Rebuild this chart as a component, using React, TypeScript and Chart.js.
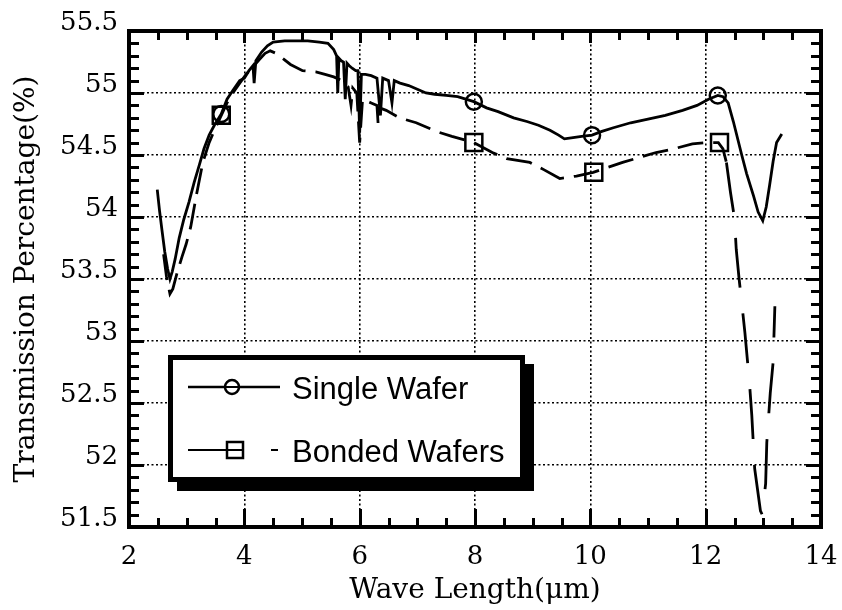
import React, { useEffect, useRef } from "react";
import { Chart, registerables } from "chart.js";

Chart.register(...registerables);

const CANVAS_W = 842;
const CANVAS_H = 610;

const xTickValues = [2, 4, 6, 8, 10, 12, 14];
const yTickValues = [51.5, 52, 52.5, 53, 53.5, 54, 54.5, 55, 55.5];
const xTitle = "Wave Length(μm)";
const yTitle = "Transmission Percentage(%)";
const legendLabels = ["Single Wafer", "Bonded Wafers"];

const singleX = [2.49, 2.53, 2.57, 2.62, 2.67, 2.71, 2.75, 2.8, 2.87, 2.95, 3.04, 3.13, 3.22, 3.3, 3.39, 3.48, 3.6, 3.7, 3.8, 3.92, 4.0, 4.08, 4.15, 4.17, 4.2, 4.3, 4.4, 4.5, 4.7, 4.9, 5.1, 5.3, 5.45, 5.55, 5.6, 5.62, 5.64, 5.68, 5.72, 5.75, 5.78, 5.82, 5.87, 5.93, 5.97, 6.0, 6.03, 6.1, 6.2, 6.3, 6.36, 6.4, 6.45, 6.5, 6.56, 6.6, 6.7, 6.85, 7.0, 7.15, 7.3, 7.5, 7.7, 7.98, 8.2, 8.4, 8.67, 8.9, 9.1, 9.3, 9.45, 9.55, 9.7, 9.85, 10.03, 10.2, 10.4, 10.7, 11.0, 11.3, 11.6, 11.85, 12.05, 12.21, 12.3, 12.39, 12.48, 12.62, 12.71, 12.83, 12.91, 12.99, 13.05, 13.11, 13.17, 13.23, 13.32];
const singleY = [54.22, 54.05, 53.9, 53.72, 53.58, 53.5, 53.56, 53.66, 53.83, 53.98, 54.12, 54.28, 54.42, 54.55, 54.66, 54.74, 54.83, 54.95, 55.02, 55.1, 55.12, 55.18, 55.22, 55.08, 55.26, 55.33, 55.38, 55.41, 55.42, 55.42, 55.42, 55.41, 55.4, 55.35, 55.3, 55.0, 55.28, 55.26, 55.25, 54.95, 55.24, 55.22, 55.2, 55.18, 55.18, 54.68, 55.15, 55.15, 55.14, 55.12, 54.82, 55.12, 55.11, 55.1, 54.92, 55.1, 55.08, 55.06, 55.03, 55.0, 54.99, 54.98, 54.97, 54.93, 54.88, 54.85, 54.8, 54.77, 54.74, 54.7, 54.66, 54.63, 54.64, 54.65, 54.66, 54.69, 54.72, 54.76, 54.79, 54.82, 54.86, 54.9, 54.95, 54.98, 54.97, 54.92, 54.77, 54.51, 54.35, 54.17, 54.04, 53.97, 54.08, 54.26, 54.45, 54.6, 54.67];

const bondedX = [2.6, 2.65, 2.71, 2.76, 2.84, 2.92, 2.99, 3.07, 3.17, 3.28, 3.39, 3.5, 3.6, 3.7, 3.8, 3.92, 4.03, 4.15, 4.26, 4.36, 4.45, 4.55, 4.66, 4.8, 5.01, 5.24, 5.4, 5.55, 5.7, 5.8, 5.85, 5.88, 5.95, 6.0, 6.05, 6.2, 6.3, 6.32, 6.35, 6.46, 6.69, 6.98, 7.33, 7.6, 7.98, 8.3, 8.55, 8.95, 9.2, 9.47, 9.76, 10.05, 10.3, 10.56, 10.85, 11.14, 11.45, 11.77, 12.0, 12.22, 12.3, 12.36, 12.43, 12.5, 12.53, 12.58, 12.62, 12.68, 12.76, 12.8, 12.85, 12.9, 12.95, 12.98, 13.04, 13.06, 13.12, 13.17, 13.2];
const bondedY = [53.7, 53.52, 53.38, 53.42, 53.56, 53.68, 53.78, 53.92, 54.18, 54.44, 54.6, 54.72, 54.82, 54.92, 55.0, 55.08, 55.15, 55.21, 55.27, 55.32, 55.34, 55.32, 55.28, 55.23, 55.18, 55.17, 55.15, 55.13, 55.1, 55.05, 54.9, 55.04, 55.0, 54.6, 54.95, 54.92, 54.9, 54.75, 54.88, 54.86, 54.8, 54.76, 54.69, 54.65, 54.6, 54.52, 54.47, 54.44, 54.38, 54.31, 54.33, 54.36, 54.4, 54.44, 54.48, 54.52, 54.55, 54.59, 54.6, 54.6, 54.55, 54.44, 54.2, 53.99, 53.74, 53.5, 53.33, 53.07, 52.66, 52.4, 51.97, 51.8, 51.63, 51.6, 51.85, 52.18, 52.58, 52.83, 53.28];

const singleMarkX = [3.6, 7.98, 10.03, 12.21];
const singleMarkY = [54.83, 54.93, 54.66, 54.98];
const bondedMarkX = [3.6, 7.98, 10.06, 12.24];
const bondedMarkY = [54.82, 54.6, 54.36, 54.6];

const toPoints = (xs: number[], ys: number[]) => xs.map((x, i) => ({ x, y: ys[i] }));

const PLOT_LEFT = 129;
const PLOT_RIGHT = 821;
const PLOT_TOP = 31;
const PLOT_BOTTOM = 527;
const PAD_LEFT = 8;

const frameTicksPlugin = {
  id: "frameTicks",
  afterDatasetsDraw(chart: any) {
    const { ctx, chartArea, scales } = chart;
    const { left, right, top, bottom } = chartArea;
    const xs = scales.x;
    const ys = scales.y;
    ctx.save();
    ctx.strokeStyle = "#000";
    ctx.lineCap = "butt";
    ctx.lineWidth = 3;
    for (let i = 0; i <= 24; i++) {
      const v = 2 + i * 0.5;
      const px = Math.round(xs.getPixelForValue(v)) + 0.5;
      const major = i % 4 === 0;
      const lb = major ? 18 : 9;
      const lt = major ? 12 : 9;
      ctx.beginPath();
      ctx.moveTo(px, bottom);
      ctx.lineTo(px, bottom - lb);
      ctx.moveTo(px, top);
      ctx.lineTo(px, top + lt);
      ctx.stroke();
    }
    for (let i = 0; i <= 40; i++) {
      const v = 51.5 + i * 0.1;
      const py = Math.round(ys.getPixelForValue(v)) + 0.5;
      const major = i % 5 === 0;
      const l = major ? 15 : 10;
      ctx.beginPath();
      ctx.moveTo(left, py);
      ctx.lineTo(left + l, py);
      ctx.moveTo(right, py);
      ctx.lineTo(right - l, py);
      ctx.stroke();
    }
    ctx.lineWidth = 4;
    ctx.strokeRect(left, top, right - left, bottom - top);
    ctx.restore();
  },
};

const boxLegendPlugin = {
  id: "boxLegend",
  afterDraw(chart: any) {
    const { ctx, chartArea } = chart;
    const bx = chartArea.left + 39;
    const by = chartArea.top + 324;
    const bw = 357;
    const bh = 127;
    ctx.save();
    ctx.fillStyle = "#000";
    ctx.beginPath();
    ctx.moveTo(bx + 9, by + bh);
    ctx.lineTo(bx + bw, by + 9);
    ctx.lineTo(bx + bw + 9, by + 15);
    ctx.lineTo(bx + bw + 9, by + bh + 9);
    ctx.lineTo(bx + 15, by + bh + 9);
    ctx.closePath();
    ctx.fill();
    ctx.fillRect(bx + 9, by + 9, bw, bh);
    ctx.fillStyle = "#fff";
    ctx.fillRect(bx, by, bw, bh);
    ctx.strokeStyle = "#000";
    ctx.lineWidth = 5;
    ctx.strokeRect(bx + 2.5, by + 2.5, bw - 5, bh - 5);

    const row1 = by + 32;
    const row2 = by + 95;
    const lx0 = bx + 20;
    const lx1 = bx + 112;
    ctx.lineWidth = 2.7;
    ctx.beginPath();
    ctx.moveTo(lx0, row1);
    ctx.lineTo(lx1, row1);
    ctx.stroke();
    ctx.beginPath();
    ctx.arc(bx + 64, row1, 7, 0, Math.PI * 2);
    ctx.fillStyle = "#fff";
    ctx.fill();
    ctx.lineWidth = 2.5;
    ctx.stroke();
    ctx.beginPath();
    ctx.moveTo(bx + 57, row1);
    ctx.lineTo(bx + 71, row1);
    ctx.lineWidth = 2;
    ctx.stroke();
    ctx.lineWidth = 2;
    ctx.beginPath();
    ctx.moveTo(lx0, row2);
    ctx.lineTo(bx + 59, row2);
    ctx.moveTo(bx + 103, row2);
    ctx.lineTo(bx + 110, row2);
    ctx.stroke();
    ctx.lineWidth = 2.5;
    ctx.strokeRect(bx + 59, row2 - 8, 16, 16);
    ctx.beginPath();
    ctx.moveTo(bx + 59, row2);
    ctx.lineTo(bx + 75, row2);
    ctx.lineWidth = 2;
    ctx.stroke();

    ctx.fillStyle = "#000";
    ctx.font = "31px 'Liberation Sans', Arial, sans-serif";
    ctx.textAlign = "left";
    ctx.textBaseline = "alphabetic";
    ctx.fillText(legendLabels[0], bx + 124, row1 + 12);
    ctx.fillText(legendLabels[1], bx + 124, row2 + 12);
    ctx.restore();
  },
};

export default function App() {
  const ref = useRef<HTMLCanvasElement | null>(null);

  useEffect(() => {
    document.body.style.margin = "0";
    const canvas = ref.current;
    if (!canvas) return;
    const serif = "'DejaVu Serif', serif";
    const chart = new Chart(canvas, {
      type: "line",
      data: {
        datasets: [
          {
            label: legendLabels[0],
            data: toPoints(singleX, singleY),
            borderColor: "#000",
            borderWidth: 2.8,
            pointRadius: 0,
            tension: 0,
            fill: false,
          },
          {
            label: legendLabels[1],
            data: toPoints(bondedX, bondedY),
            borderColor: "#000",
            borderWidth: 2.8,
            pointRadius: 0,
            tension: 0,
            fill: false,
            segment: {
              borderDash: (c: any) => (c.p0.parsed.x > 12.3 ? [50, 26] : [26, 10]),
            },
          },
          {
            label: "single markers",
            data: toPoints(singleMarkX, singleMarkY),
            showLine: false,
            pointStyle: "circle",
            pointRadius: 8,
            pointBorderWidth: 2.5,
            pointBorderColor: "#000",
            pointBackgroundColor: "rgba(0,0,0,0)",
          },
          {
            label: "bonded markers",
            data: toPoints(bondedMarkX, bondedMarkY),
            showLine: false,
            pointStyle: "rect",
            pointRadius: 12,
            pointBorderWidth: 2.5,
            pointBorderColor: "#000",
            pointBackgroundColor: "rgba(0,0,0,0)",
          },
        ],
      },
      options: {
        responsive: false,
        animation: false,
        events: [],
        layout: {
          padding: {
            left: PAD_LEFT,
            right: CANVAS_W - PLOT_RIGHT,
            top: PLOT_TOP,
            bottom: 0,
          },
        },
        plugins: {
          legend: { display: false },
          tooltip: { enabled: false },
        },
        scales: {
          x: {
            type: "linear",
            min: 2,
            max: 14,
            afterBuildTicks: (s: any) => {
              s.ticks = xTickValues.map((v) => ({ value: v }));
            },
            afterFit: (s: any) => {
              s.height = CANVAS_H - PLOT_BOTTOM;
              s.paddingLeft = 0;
              s.paddingRight = 0;
            },
            ticks: {
              color: "#000",
              font: { family: serif, size: 26 },
              padding: 15,
              maxRotation: 0,
              autoSkip: false,
              callback: (v: any) => String(v),
            },
            grid: { color: "#000", lineWidth: 1.6, drawTicks: false },
            border: { display: false, dash: [2, 2.5] },
            title: {
              display: true,
              text: xTitle,
              color: "#000",
              font: { family: serif, size: 28 },
              padding: { top: 0, bottom: 2 },
            },
          },
          y: {
            type: "linear",
            min: 51.5,
            max: 55.5,
            afterBuildTicks: (s: any) => {
              s.ticks = yTickValues.map((v) => ({ value: v }));
            },
            afterFit: (s: any) => {
              s.width = PLOT_LEFT - PAD_LEFT;
              s.paddingTop = 0;
              s.paddingBottom = 0;
            },
            ticks: {
              color: "#000",
              font: { family: serif, size: 26 },
              padding: 11,
              labelOffset: -8,
              autoSkip: false,
              callback: (v: any) => String(v),
            },
            grid: { color: "#000", lineWidth: 1.6, drawTicks: false },
            border: { display: false, dash: [2, 2.5] },
            title: {
              display: true,
              text: yTitle,
              color: "#000",
              font: { family: serif, size: 28 },
              padding: { top: 2, bottom: 0 },
            },
          },
        },
      },
      plugins: [frameTicksPlugin, boxLegendPlugin],
    } as any);
    return () => chart.destroy();
  }, []);

  return (
    <div style={{ width: CANVAS_W, height: CANVAS_H, position: "relative", background: "#fff" }}>
      <canvas ref={ref} width={CANVAS_W} height={CANVAS_H} style={{ display: "block", width: CANVAS_W, height: CANVAS_H }} />
    </div>
  );
}
